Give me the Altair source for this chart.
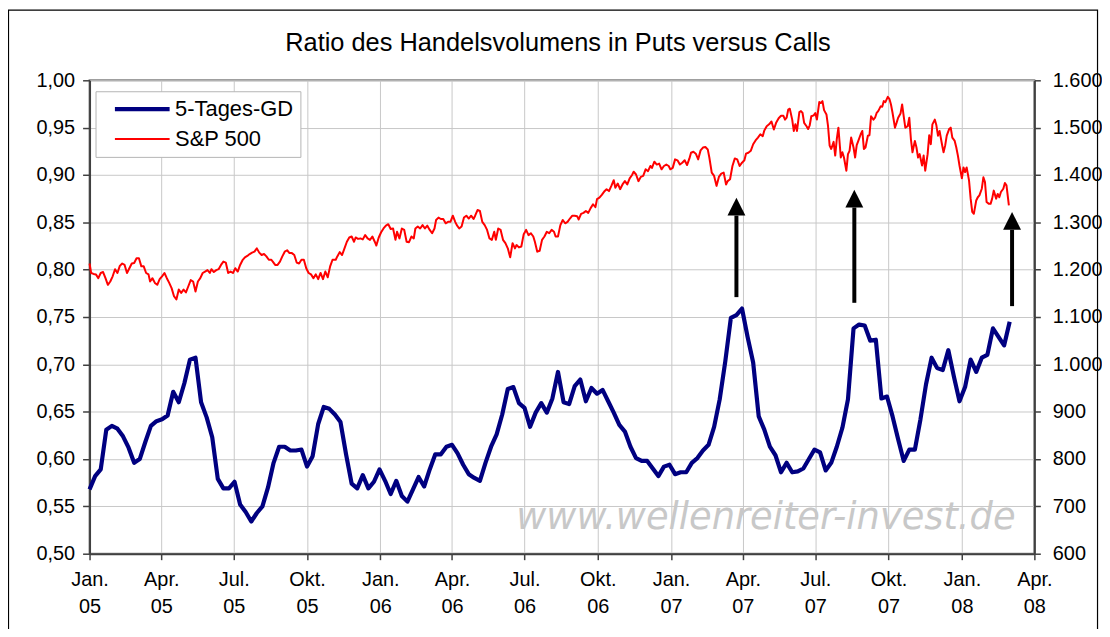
import altair as alt
import pandas as pd

# ---------------- data ----------------
TITLE = "Ratio des Handelsvolumens in Puts versus Calls"
WATERMARK = "www.wellenreiter-invest.de"
series_names = ["5-Tages-GD", "S&P 500"]
series_colors = ["#000080", "#ff0000"]
series_widths = [4.2, 2.0]

# weekly 5-day average of the put/call volume ratio (left axis)
ratio_first_week = "2005-01-01"
ratio_values = [
    0.568, 0.582, 0.589, 0.631, 0.635, 0.632, 0.624, 0.612, 0.596, 0.600,
    0.618, 0.635, 0.640, 0.642, 0.646, 0.671, 0.660, 0.680, 0.705, 0.707,
    0.660, 0.644, 0.623, 0.579, 0.569, 0.569, 0.576, 0.552, 0.544, 0.534,
    0.543, 0.550, 0.570, 0.596, 0.613, 0.613, 0.609, 0.609, 0.610, 0.592,
    0.603, 0.637, 0.655, 0.653, 0.647, 0.639, 0.605, 0.574, 0.569, 0.583,
    0.569, 0.576, 0.589, 0.577, 0.563, 0.577, 0.561, 0.555, 0.568, 0.581,
    0.571, 0.589, 0.605, 0.605, 0.613,
    0.615, 0.606, 0.594, 0.584, 0.580, 0.577, 0.596, 0.613, 0.626, 0.647,
    0.674, 0.676, 0.659, 0.654, 0.634, 0.649, 0.659, 0.649, 0.664, 0.692,
    0.660, 0.658, 0.677, 0.684, 0.661, 0.675, 0.669, 0.673, 0.661, 0.649,
    0.636, 0.629, 0.613, 0.601, 0.598, 0.598, 0.590, 0.582, 0.592, 0.594,
    0.584, 0.586, 0.586, 0.596, 0.601, 0.609, 0.615, 0.634, 0.663, 0.703,
    0.749, 0.752, 0.759, 0.729, 0.702, 0.645,
    0.631, 0.613, 0.604, 0.586, 0.596, 0.586, 0.587, 0.590, 0.600, 0.610,
    0.607, 0.588, 0.596, 0.613, 0.633, 0.663, 0.738, 0.742, 0.741, 0.725,
    0.726, 0.664, 0.666, 0.645, 0.621, 0.598, 0.610, 0.610, 0.642, 0.679,
    0.707, 0.696, 0.694, 0.715, 0.687, 0.661, 0.676, 0.705, 0.692, 0.707,
    0.710, 0.738, 0.729, 0.720, 0.745,
]

# S&P 500 (right axis), read in four stretches
spx_seg_dates = [
    ("2005-01-01", "2005-11-02"),
    ("2005-11-06", "2006-09-02"),
    ("2006-09-05", "2007-05-22"),
    ("2007-05-24", "2008-02-29"),
]
spx_seg1 = [
    1213, 1193, 1191, 1190, 1182, 1193, 1195, 1182, 1168, 1175,
    1186, 1201, 1193, 1208, 1213, 1210, 1193, 1203, 1213, 1214,
    1224, 1224, 1207, 1207, 1193, 1190, 1175, 1182, 1172, 1168,
    1180, 1186, 1193, 1182, 1172, 1161, 1144, 1137, 1158, 1151,
    1158, 1152, 1165, 1178, 1175, 1154, 1175, 1182, 1193, 1196,
    1199, 1193, 1201, 1195, 1199, 1201, 1210, 1217, 1215, 1193,
    1196, 1193, 1203, 1196, 1210, 1220, 1226, 1229, 1233, 1236,
    1238, 1245, 1236, 1231, 1233, 1228, 1221, 1221, 1217, 1210,
    1210, 1217, 1228, 1238, 1241, 1235, 1235, 1231, 1215, 1213,
    1221, 1221, 1203, 1193, 1190, 1182, 1190, 1180, 1193, 1180,
    1196, 1184, 1207, 1221,
]
spx_seg2 = [
    1221, 1228, 1237, 1231, 1245, 1259, 1268, 1270, 1259, 1268,
    1265, 1266, 1264, 1273, 1266, 1263, 1270, 1259, 1251, 1268,
    1279, 1287, 1293, 1296, 1286, 1287, 1263, 1280, 1266, 1287,
    1284, 1259, 1258, 1270, 1266, 1287, 1291, 1287, 1294, 1287,
    1293, 1284, 1277, 1287, 1305, 1310, 1307, 1307, 1298, 1301,
    1301, 1314, 1301, 1294, 1287, 1291, 1310, 1314, 1308, 1314,
    1307, 1314, 1326, 1324, 1301, 1294, 1284, 1266, 1263, 1280,
    1263, 1287, 1284, 1263, 1256, 1245, 1226, 1256, 1245, 1252,
    1247, 1249, 1275, 1284, 1273, 1277, 1270, 1259, 1238, 1240,
    1263, 1270, 1280, 1277, 1284, 1280, 1270, 1270, 1294, 1305,
    1298, 1301, 1308, 1314, 1314,
]
spx_seg3 = [
    1313, 1306, 1318, 1320, 1324, 1320, 1330, 1338, 1332, 1349,
    1352, 1358, 1365, 1370, 1366, 1377, 1389, 1373, 1382, 1370,
    1380, 1387, 1380, 1393, 1400, 1407, 1401, 1387, 1396, 1398,
    1412, 1408, 1419, 1415, 1428, 1422, 1424, 1412, 1419, 1422,
    1419, 1412, 1415, 1433, 1431, 1422, 1426, 1431, 1421, 1435,
    1447, 1449, 1445, 1433, 1452, 1458, 1459, 1454, 1437, 1405,
    1398, 1377, 1396, 1403, 1405, 1380, 1387, 1391, 1419, 1435,
    1433, 1419, 1426, 1431, 1445, 1447, 1451, 1465, 1473, 1479,
    1486, 1482, 1494, 1503, 1507, 1513, 1496, 1511, 1520, 1525,
    1525,
]
spx_seg4 = [
    1517, 1521, 1538, 1540, 1517, 1493, 1507, 1493, 1533, 1535,
    1531, 1510, 1503, 1497, 1505, 1524, 1526, 1531, 1517, 1554,
    1552, 1556, 1537, 1528, 1503, 1462, 1455, 1470, 1441, 1476,
    1500, 1437, 1448, 1437, 1409, 1444, 1451, 1479, 1458, 1437,
    1463, 1472, 1486, 1493, 1455, 1458, 1483, 1484, 1524, 1517,
    1521, 1531, 1535, 1545, 1544, 1556, 1554, 1565, 1561, 1549,
    1531, 1500, 1510, 1521, 1530, 1549, 1524, 1500, 1503, 1521,
    1476, 1448, 1472, 1458, 1437, 1444, 1420, 1441, 1409, 1444,
    1484, 1465, 1507, 1517, 1505, 1483, 1493, 1465, 1448, 1462,
    1483, 1497, 1500, 1479, 1472, 1458, 1441, 1420, 1393, 1416,
    1406, 1416, 1388, 1350, 1322, 1318, 1346, 1353, 1357, 1371,
    1395, 1385, 1343, 1339, 1339, 1350, 1367, 1350, 1360, 1353,
    1364, 1371, 1383, 1378, 1336,
]

quarter_ticks = ["2005-01-01", "2005-04-01", "2005-07-01", "2005-10-01",
                 "2006-01-01", "2006-04-01", "2006-07-01", "2006-10-01",
                 "2007-01-01", "2007-04-01", "2007-07-01", "2007-10-01",
                 "2008-01-01", "2008-04-01"]
quarter_names = ["Jan.", "Apr.", "Jul.", "Okt."]
ratio_ticks = [0.50, 0.55, 0.60, 0.65, 0.70, 0.75, 0.80, 0.85, 0.90, 0.95, 1.00]
spx_ticks = [600, 700, 800, 900, 1000, 1100, 1200, 1300, 1400, 1500, 1600]
ratio_domain = [0.50, 1.00]
spx_domain = [600, 1600]

# arrows (in ratio units of the left axis)
arrow_dates = ["2007-03-24", "2007-08-19", "2008-03-04"]
arrow_base = [0.771, 0.765, 0.7615]
arrow_tip = [0.876, 0.8845, 0.861]
arrow_head = 0.0189

watermark_date = "2007-04-30"
watermark_level = 0.526


# ---------------- tables ----------------
def iso(d):
    return pd.Timestamp(d).strftime("%Y-%m-%dT00:00:00Z")


ratio_df = pd.DataFrame({
    "date": [iso(d) for d in pd.date_range(ratio_first_week, periods=len(ratio_values), freq="7D")],
    "value": ratio_values,
    "series": series_names[0],
})

spx_parts = []
for (d0, d1), vals in zip(spx_seg_dates, [spx_seg1, spx_seg2, spx_seg3, spx_seg4]):
    spx_parts.append(pd.DataFrame({
        "date": [iso(d) for d in pd.date_range(d0, d1, periods=len(vals))],
        "value": vals,
    }))
spx_df = pd.concat(spx_parts, ignore_index=True)
spx_df["series"] = series_names[1]

arrow_df = pd.DataFrame({
    "date": [iso(d) for d in arrow_dates],
    "base": arrow_base,
    "neck": [t - arrow_head for t in arrow_tip],
    "mid": [t - arrow_head / 2 for t in arrow_tip],
})

wm_df = pd.DataFrame({"date": [iso(watermark_date)], "y": [watermark_level], "t": [WATERMARK]})
title_df = pd.DataFrame({"t": [TITLE]})
frame_df = pd.DataFrame({"k": [0]})


def dt(s):
    t = pd.Timestamp(s)
    return alt.DateTime(year=t.year, month=t.month, date=t.day, utc=True)


# ---------------- scales / axes ----------------
x_scale = alt.Scale(type="utc", domain=[dt(quarter_ticks[0]), dt(quarter_ticks[-1])], nice=False)
names_js = "[" + ",".join("'" + n + "'" for n in quarter_names) + "]"
x_axis = alt.Axis(
    values=[dt(s) for s in quarter_ticks],
    labelExpr=f"[{names_js}[floor(utcmonth(datum.value)/3)], utcFormat(datum.value, '%y')]",
    title=None, grid=True, tickSize=6, labelPadding=10, labelLineHeight=27,
    labelFlush=False, labelOverlap=False, labelBound=False,
)
left_scale = alt.Scale(domain=ratio_domain, nice=False, zero=False)
right_scale = alt.Scale(domain=spx_domain, nice=False, zero=False)
left_axis = alt.Axis(
    values=ratio_ticks, labelExpr="replace(format(datum.value, '.2f'), '.', ',')",
    title=None, grid=True, tickSize=7, labelPadding=8, labelFlush=False, labelOverlap=False,
)
right_axis = alt.Axis(
    orient="right", values=spx_ticks, labelExpr="replace(format(datum.value, ','), ',', '.')",
    title=None, grid=False, tickSize=6, labelPadding=12, labelFlush=False, labelOverlap=False,
)
color_scale = alt.Scale(domain=series_names, range=series_colors)
width_scale = alt.Scale(domain=series_names, range=series_widths)
legend = alt.Legend(
    title=None, orient="none", legendX=6, legendY=11, direction="vertical",
    symbolType="M-5.5,0L5.5,0", symbolSize=100, labelFontSize=22, labelFont="Liberation Sans",
    labelColor="black", padding=7, rowPadding=8, labelOffset=22, symbolOffset=29,
    fillColor="white", strokeColor="#b4b4b4",
)

x_enc = alt.X("date:T", scale=x_scale, axis=x_axis)

# ---------------- layers ----------------
frame = alt.Chart(frame_df).mark_rect(fillOpacity=0, stroke="#000000", strokeWidth=1.2).encode(
    x=alt.value(-81.5), x2=alt.value(1013.5), y=alt.value(-70.5), y2=alt.value(600)
)

watermark = alt.Chart(wm_df).mark_text(
    font="DejaVu Sans", fontStyle="italic", fontSize=37, color="#c8c8c8",
    align="center", baseline="alphabetic",
).encode(x=x_enc, y=alt.Y("y:Q", scale=left_scale, axis=None), text="t:N")

blue = alt.Chart(ratio_df).mark_line(strokeJoin="round").encode(
    x=x_enc,
    y=alt.Y("value:Q", scale=left_scale, axis=left_axis),
    color=alt.Color("series:N", scale=color_scale, legend=legend),
    strokeWidth=alt.StrokeWidth("series:N", scale=width_scale, legend=legend),
)

red = alt.Chart(spx_df).mark_line(strokeJoin="round").encode(
    x=x_enc,
    y=alt.Y("value:Q", scale=right_scale, axis=right_axis),
    color=alt.Color("series:N", scale=color_scale, legend=legend),
    strokeWidth=alt.StrokeWidth("series:N", scale=width_scale, legend=legend),
)

shaft = alt.Chart(arrow_df).mark_rule(color="black", strokeWidth=4).encode(
    x=x_enc,
    y=alt.Y("base:Q", scale=left_scale, axis=None),
    y2="neck:Q",
)
head = alt.Chart(arrow_df).mark_point(
    shape="M-1,1L1,1L0,-1Z", filled=True, color="black", size=324, opacity=1
).encode(x=x_enc, y=alt.Y("mid:Q", scale=left_scale, axis=None))

title_mark = alt.Chart(title_df).mark_text(
    font="Liberation Sans", fontSize=25.5, color="black", align="center", baseline="alphabetic"
).encode(x=alt.value(471), y=alt.value(-29), text="t:N")

chart = alt.layer(frame, watermark, blue, red, shaft, head, title_mark).resolve_scale(
    y="independent"
).properties(
    width=950, height=476,
    autosize=alt.AutoSizeParams(type="none"),
    padding={"left": 82, "top": 71, "right": 68, "bottom": 74},
).configure_view(
    stroke="#808080", strokeWidth=2
).configure_axis(
    labelFont="Liberation Sans", labelFontSize=20, labelColor="#000000",
    domainColor="#404040", domainWidth=2, tickColor="#404040", tickWidth=1.5,
    gridColor="#c8c8c8", gridWidth=1,
)

chart.save("out.html", embed_options={"renderer": "svg", "actions": False})
